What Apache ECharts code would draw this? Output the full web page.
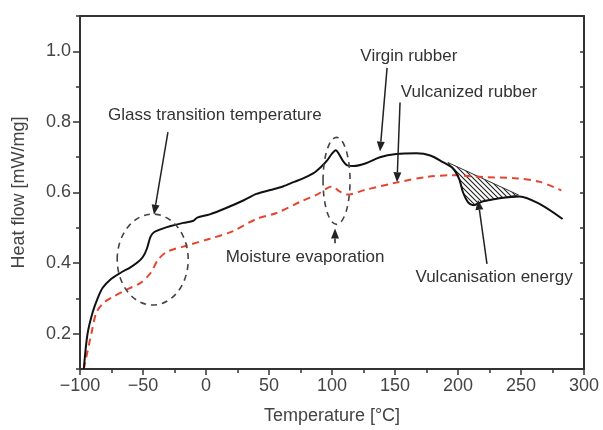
<!DOCTYPE html>
<html><head><meta charset="utf-8">
<script src="https://cdn.jsdelivr.net/npm/echarts@6/dist/echarts.min.js"></script>
<style>html,body{margin:0;padding:0;background:#fff}#c{width:603px;height:430px}</style>
</head><body><div id="c"></div>
<script>
// Virgin rubber (solid black)
const tempVirgin = [-97,-94,-90,-86,-82,-76,-68,-60,-54,-50,-47,-44,-41,-35,-28,-18,-10,-7,3,16,30,40,51,61,70,77,85,92,96,100,103,106,109,112,117,127,138,151,167,178,188,196,201,204,208,212,220,233,249,265,283];
const flowVirgin = [0.10,0.20,0.26,0.30,0.33,0.353,0.372,0.388,0.403,0.418,0.44,0.475,0.488,0.497,0.505,0.514,0.52,0.529,0.538,0.556,0.578,0.596,0.607,0.617,0.63,0.64,0.654,0.675,0.69,0.71,0.72,0.706,0.688,0.677,0.675,0.683,0.70,0.709,0.711,0.705,0.686,0.668,0.638,0.60,0.572,0.564,0.575,0.584,0.589,0.567,0.525];
// Vulcanized rubber (red dashed)
const tempVulc = [-97,-91,-87,-82,-76,-63,-52,-44,-38,-31,-15,3,21,40,56,75,88,100,106,112,127,151,175,196,220,247,265,282];
const flowVulc = [0.10,0.20,0.26,0.285,0.30,0.325,0.344,0.372,0.41,0.432,0.45,0.469,0.49,0.525,0.542,0.574,0.594,0.617,0.603,0.594,0.608,0.628,0.644,0.649,0.644,0.64,0.63,0.606];
// Vulcanisation energy baseline (start, end)
const baseTemp = [192, 248];
const baseFlow = [0.685, 0.593];
// Axis ticks
const yLabelValues = [0.2, 0.4, 0.6, 0.8, 1.0];

const virginData = tempVirgin.map((t, i) => [t, flowVirgin[i]]);
const vulcData = tempVulc.map((t, i) => [t, flowVulc[i]]);

const chart = echarts.init(document.getElementById('c'), null, {renderer: 'canvas'});
const FONT = '"Liberation Sans", Arial, sans-serif';
const axisCol = '#333';
const labelCol = '#444';

// hatch pattern
const cv = document.createElement('canvas');
cv.width = 5; cv.height = 5;
const cx = cv.getContext('2d');
cx.fillStyle = '#fff'; cx.fillRect(0, 0, 5, 5);
cx.strokeStyle = '#222'; cx.lineWidth = 1.1;
cx.beginPath(); cx.moveTo(0, 0); cx.lineTo(5, 5); cx.moveTo(-1, 4); cx.lineTo(1, 6); cx.moveTo(4, -1); cx.lineTo(6, 1); cx.stroke();

chart.setOption({
  animation: false,
  backgroundColor: '#fff',
  grid: {left: 80, right: 19, top: 16, bottom: 55},
  xAxis: [{
    type: 'value', min: -100, max: 300, interval: 50, position: 'bottom',
    name: 'Temperature [°C]', nameLocation: 'middle', nameGap: 38,
    nameTextStyle: {fontFamily: FONT, fontSize: 18, color: labelCol},
    axisLine: {show: true, onZero: false, lineStyle: {color: axisCol, width: 2}},
    axisTick: {show: true, inside: false, length: 6, lineStyle: {color: axisCol, width: 1.5}},
    minorTick: {show: true, splitNumber: 2, length: 4, lineStyle: {color: axisCol, width: 1.5}},
    axisLabel: {fontFamily: FONT, fontSize: 18, color: labelCol, margin: 8,
      formatter: v => String(v).replace('-', '\u2212')},
    splitLine: {show: false}
  }, {
    type: 'value', min: -100, max: 300, interval: 50, position: 'top',
    axisLine: {show: true, onZero: false, lineStyle: {color: axisCol, width: 2}},
    axisTick: {show: false}, axisLabel: {show: false}, splitLine: {show: false}
  }],
  yAxis: [{
    type: 'value', min: 0.1, max: 1.1, position: 'left',
    name: 'Heat flow [mW/mg]', nameLocation: 'middle', nameGap: 52, nameRotate: 90,
    nameTextStyle: {fontFamily: FONT, fontSize: 18, color: labelCol},
    axisLine: {show: true, onZero: false, lineStyle: {color: axisCol, width: 2}},
    axisTick: {show: true, length: 7, customValues: yLabelValues, lineStyle: {color: axisCol, width: 1.5}},
    axisLabel: {fontFamily: FONT, fontSize: 18, color: labelCol, margin: 9, customValues: yLabelValues,
      formatter: v => v.toFixed(1)},
    splitLine: {show: false}
  }, {
    type: 'value', min: 0.1, max: 1.1, interval: 0.1, position: 'left',
    axisLine: {show: false, onZero: false}, axisLabel: {show: false}, splitLine: {show: false},
    axisTick: {show: true, length: 4, lineStyle: {color: axisCol, width: 1.5}}
  }, {
    type: 'value', min: 0.1, max: 1.1, interval: 0.1, position: 'right',
    axisLine: {show: true, onZero: false, lineStyle: {color: axisCol, width: 2}},
    axisLabel: {show: false}, splitLine: {show: false},
    axisTick: {show: true, inside: true, length: 4, lineStyle: {color: axisCol, width: 1.5}}
  }],
  series: [{
    type: 'custom', name: 'energy', z: 1, silent: true, clip: true,
    data: [[baseTemp[0], baseFlow[0]]],
    renderItem: function (params, api) {
      const pts = [api.coord([baseTemp[0], baseFlow[0]]), api.coord([baseTemp[1], baseFlow[1]])];
      for (let i = tempVirgin.length - 1; i >= 0; i--) {
        if (tempVirgin[i] > baseTemp[0] && tempVirgin[i] < baseTemp[1]) pts.push(api.coord([tempVirgin[i], flowVirgin[i]]));
      }
      return {type: 'polygon', shape: {points: pts},
        style: {fill: {image: cv, repeat: 'repeat'}, stroke: '#333', lineWidth: 1}};
    }
  }, {
    type: 'line', name: 'Vulcanized rubber', data: vulcData, smooth: 0.3, showSymbol: false, z: 3,
    lineStyle: {color: '#e5452e', width: 2, type: [7, 5]}
  }, {
    type: 'line', name: 'Virgin rubber', data: virginData, smooth: 0.3, showSymbol: false, z: 4,
    lineStyle: {color: '#111', width: 2}
  }]
});

// Annotations (in data coordinates)
const annText = [
  {text: 'Glass transition temperature', at: [7, 0.819]},
  {text: 'Moisture evaporation', at: [78.6, 0.415]},
  {text: 'Virgin rubber', at: [161, 0.986]},
  {text: 'Vulcanized rubber', at: [208.7, 0.883]},
  {text: 'Vulcanisation energy', at: [228.6, 0.359]}
];
const annArrows = [
  [[-30.2, 0.771], [-41.3, 0.537]],
  [[102.4, 0.456], [102.4, 0.498]],
  [[143.7, 0.953], [138.1, 0.716]],
  [[154, 0.855], [151.6, 0.629]],
  [[223, 0.398], [215.9, 0.579]]
];
const annEllipses = [
  {at: [-42.3, 0.410], rx: 35.5, ry: 45.5},
  {at: [103.6, 0.633], rx: 13.5, ry: 43.5}
];
const px = p => chart.convertToPixel({xAxisIndex: 0, yAxisIndex: 0}, p);
const g = [];
annText.forEach(a => {
  const p = px(a.at);
  g.push({type: 'text', x: p[0], y: p[1], z: 10,
    style: {text: a.text, font: '17px ' + FONT, fill: '#333', align: 'center', verticalAlign: 'middle'}});
});
annArrows.forEach(a => {
  const p0 = px(a[0]), p1 = px(a[1]);
  const dx = p1[0] - p0[0], dy = p1[1] - p0[1];
  const L = Math.hypot(dx, dy), ux = dx / L, uy = dy / L;
  const hl = 10, hw = 4;
  const bx = p1[0] - ux * hl, by = p1[1] - uy * hl;
  g.push({type: 'line', z: 10, shape: {x1: p0[0], y1: p0[1], x2: bx, y2: by}, style: {stroke: '#222', lineWidth: 1.5}});
  g.push({type: 'polygon', z: 10, shape: {points: [[p1[0], p1[1]], [bx - uy * hw, by + ux * hw], [bx + uy * hw, by - ux * hw]]},
    style: {fill: '#222'}});
});
annEllipses.forEach(e => {
  const p = px(e.at);
  g.push({type: 'ellipse', z: 10, shape: {cx: p[0], cy: p[1], rx: e.rx, ry: e.ry},
    style: {fill: 'none', stroke: '#444', lineWidth: 1.6, lineDash: [6, 5]}});
});
chart.setOption({graphic: g});
</script>
</body></html>
